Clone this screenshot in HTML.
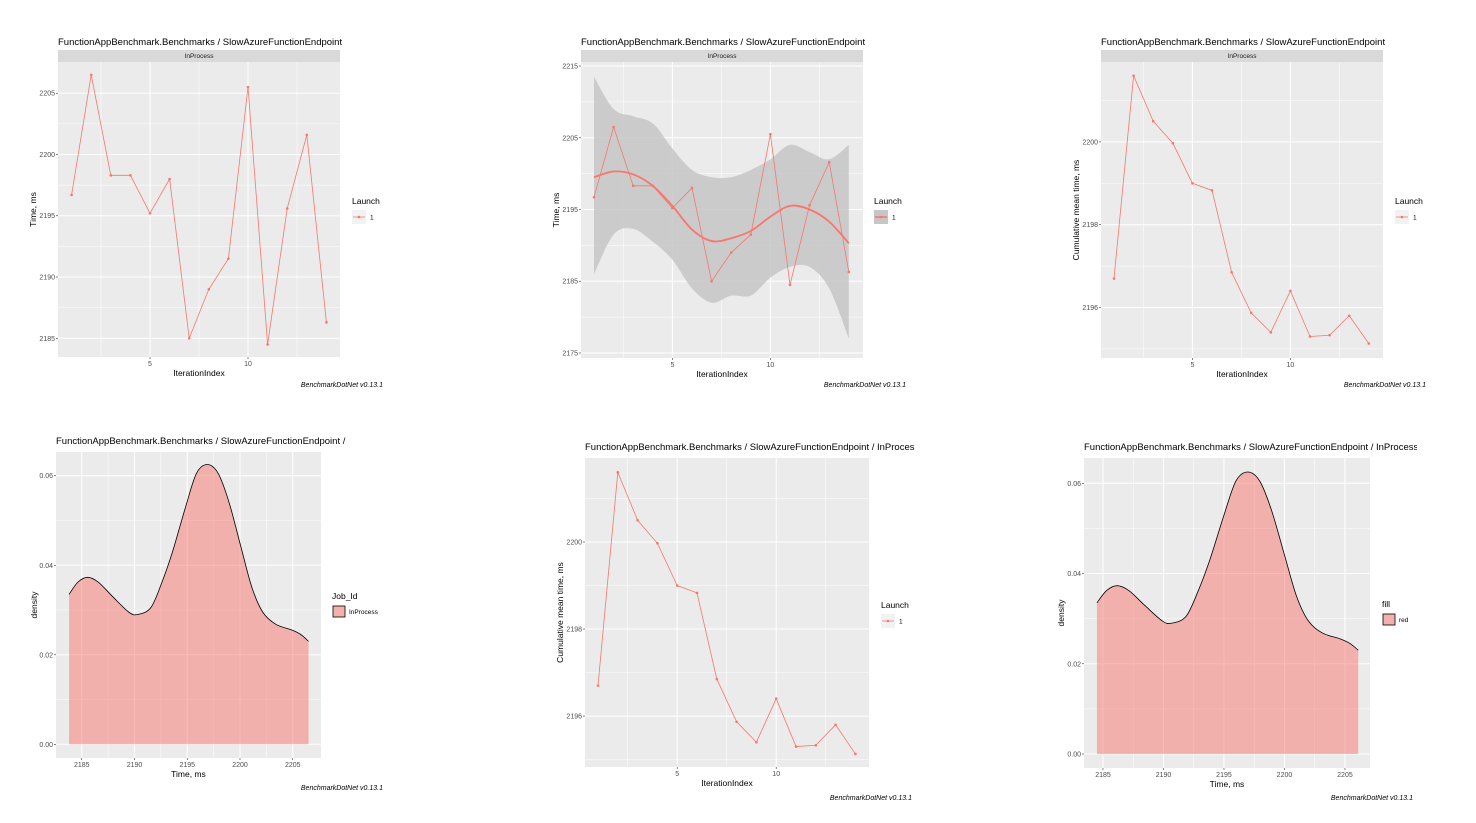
<!DOCTYPE html>
<html><head><meta charset="utf-8"><style>
body{margin:0;background:#fff;width:1476px;height:823px;overflow:hidden}
svg{position:absolute;left:0;top:0}
text{font-family:"Liberation Sans",sans-serif}
</style></head><body>
<svg id="s" width="1476" height="823" xmlns="http://www.w3.org/2000/svg"></svg>
<script>
var out='';
function cr(pts){
  var d='M'+pts[0][0]+','+pts[0][1];
  for(var i=0;i<pts.length-1;i++){
    var p0=pts[i-1]||pts[i],p1=pts[i],p2=pts[i+1],p3=pts[i+2]||p2;
    d+=' C'+(p1[0]+(p2[0]-p0[0])/6)+','+(p1[1]+(p2[1]-p0[1])/6)+' '+(p2[0]-(p3[0]-p1[0])/6)+','+(p2[1]-(p3[1]-p1[1])/6)+' '+p2[0]+','+p2[1];
  }
  return d;
}
function panel(o){
  var X=function(v){return o.x0+(v-o.xmin)/(o.xmax-o.xmin)*(o.x1-o.x0)};
  var Y=function(v){return o.y1-(v-o.ymin)/(o.ymax-o.ymin)*(o.y1-o.y0)};
  o.X=X;o.Y=Y;
  out+='<rect x="'+o.x0+'" y="'+o.y0+'" width="'+(o.x1-o.x0)+'" height="'+(o.y1-o.y0)+'" fill="#ebebeb"/>';
  o.xminor.forEach(function(v){out+='<line x1="'+X(v)+'" x2="'+X(v)+'" y1="'+o.y0+'" y2="'+o.y1+'" stroke="#fff" stroke-width="0.5"/>'});
  o.yminor.forEach(function(v){out+='<line y1="'+Y(v)+'" y2="'+Y(v)+'" x1="'+o.x0+'" x2="'+o.x1+'" stroke="#fff" stroke-width="0.5"/>'});
  o.xt.forEach(function(v){var x=X(v[0]);out+='<line x1="'+x+'" x2="'+x+'" y1="'+o.y0+'" y2="'+o.y1+'" stroke="#fff" stroke-width="1"/><line x1="'+x+'" x2="'+x+'" y1="'+o.y1+'" y2="'+(o.y1+2)+'" stroke="#333" stroke-width="0.6"/><text x="'+x+'" y="'+(o.y1+9)+'" font-size="7" fill="#4d4d4d" text-anchor="middle">'+v[1]+'</text>'});
  o.yt.forEach(function(v){var y=Y(v[0]);out+='<line y1="'+y+'" y2="'+y+'" x1="'+o.x0+'" x2="'+o.x1+'" stroke="#fff" stroke-width="1"/><line y1="'+y+'" y2="'+y+'" x1="'+(o.x0-2)+'" x2="'+o.x0+'" stroke="#333" stroke-width="0.6"/><text x="'+(o.x0-3)+'" y="'+(y+2.5)+'" font-size="7" fill="#4d4d4d" text-anchor="end">'+v[1]+'</text>'});
  if(o.strip){out+='<rect x="'+o.x0+'" y="'+(o.y0-12)+'" width="'+(o.x1-o.x0)+'" height="12" fill="#d9d9d9"/><text x="'+((o.x0+o.x1)/2)+'" y="'+(o.y0-4)+'" font-size="6.5" fill="#1a1a1a" text-anchor="middle">InProcess</text>';}
  var ty=o.strip?o.y0-17:o.y0-8;
  out+='<text x="'+o.x0+'" y="'+ty+'" font-size="9.5" fill="#000">'+o.title+'</text>';
  out+='<text x="'+((o.x0+o.x1)/2)+'" y="'+(o.y1+19)+'" font-size="8.5" fill="#000" text-anchor="middle">'+o.xlab+'</text>';
  var yc=(o.y0+o.y1)/2;
  out+='<text transform="translate('+o.ylx+','+yc+') rotate(-90)" font-size="8.5" fill="#000" text-anchor="middle">'+o.ylab+'</text>';
  out+='<text x="'+o.bx+'" y="'+o.by+'" font-size="7" font-style="italic" fill="#000" text-anchor="end">BenchmarkDotNet v0.13.1</text>';
}
function linePts(o,vals,col){
  var pts=vals.map(function(v,i){return [o.X(i+1),o.Y(v)]});
  out+='<polyline points="'+pts.map(function(p){return p.join(',')}).join(' ')+'" fill="none" stroke="'+(col||'#f8766d')+'" stroke-width="0.8"/>';
  pts.forEach(function(p){out+='<circle cx="'+p[0]+'" cy="'+p[1]+'" r="1.3" fill="#f8766d"/>'});
}
function legLaunch(x,y,fillbg){
  out+='<text x="'+x+'" y="'+y+'" font-size="8.5">Launch</text><rect x="'+x+'" y="'+(y+6)+'" width="14" height="14" fill="'+(fillbg||'#f2f2f2')+'"/><line x1="'+(x+1)+'" x2="'+(x+13)+'" y1="'+(y+13)+'" y2="'+(y+13)+'" stroke="#f8766d" stroke-width="'+(fillbg?1.5:0.8)+'"/><circle cx="'+(x+7)+'" cy="'+(y+13)+'" r="1.3" fill="#f8766d"/><text x="'+(x+18)+'" y="'+(y+15.5)+'" font-size="6.5">1</text>';
}
var raw=[2196.7,2206.5,2198.3,2198.3,2195.2,2198.0,2185.0,2189.0,2191.5,2205.5,2184.5,2195.6,2201.6,2186.3];
var cum=[2196.7,2201.6,2200.5,2199.97,2199.0,2198.83,2196.85,2195.87,2195.4,2196.4,2195.3,2195.33,2195.8,2195.13];
var T='FunctionAppBenchmark.Benchmarks / SlowAzureFunctionEndpoint';
var xi=[[5,'5'],[10,'10']], xim=[2.5,7.5,12.5];
var p1={x0:58,x1:340,y0:62,y1:357,xmin:1-(71.6-58)/19.6,xmax:1+(340-71.6)/19.6,ymin:2183.47,ymax:2207.55,
 xt:xi,xminor:xim,yt:[[2185,'2185'],[2190,'2190'],[2195,'2195'],[2200,'2200'],[2205,'2205']],yminor:[2187.5,2192.5,2197.5,2202.5],
 strip:1,title:T,xlab:'IterationIndex',ylab:'Time, ms',ylx:36,bx:383,by:387};
panel(p1);linePts(p1,raw);legLaunch(352,204);
var p2={x0:581,x1:863,y0:62,y1:358,xmin:1-(594-581)/19.6,xmax:1+(863-594)/19.6,ymin:2174.3,ymax:2215.56,
 xt:xi,xminor:xim,yt:[[2175,'2175'],[2185,'2185'],[2195,'2195'],[2205,'2205'],[2215,'2215']],yminor:[2180,2190,2200,2210],
 strip:1,title:T,xlab:'IterationIndex',ylab:'Time, ms',ylx:559,bx:906,by:387};
panel(p2);
var up=[2213.5,2209,2208,2207,2203.5,2200.5,2199.5,2199.5,2200.5,2202,2204,2203,2202,2204];
var lo=[2186,2191.5,2192.3,2190.5,2188,2184,2182,2183,2183,2185.5,2187,2187,2184,2177];
var sm=[2199.5,2200.3,2199.9,2198.3,2195.5,2192.2,2190.6,2191,2192,2194,2195.5,2195,2193.3,2190.3];
var upP=up.map(function(v,i){return [p2.X(i+1),p2.Y(v)]}), loP=lo.map(function(v,i){return [p2.X(i+1),p2.Y(v)]}).reverse();
out+='<path d="'+cr(upP)+' L'+loP[0].join(',')+' '+cr(loP).slice(1)+' Z" fill="#c6c6c6" fill-opacity="0.85"/>';
linePts(p2,raw);
out+='<path d="'+cr(sm.map(function(v,i){return [p2.X(i+1),p2.Y(v)]}))+'" fill="none" stroke="#f8766d" stroke-width="1.8"/>';
legLaunch(874,204,'#c6c6c6');
var p3={x0:1101,x1:1383,y0:62,y1:358,xmin:1-(1114-1101)/19.6,xmax:1+(1383-1114)/19.6,ymin:2194.78,ymax:2201.93,
 xt:xi,xminor:xim,yt:[[2196,'2196'],[2198,'2198'],[2200,'2200']],yminor:[2195,2197,2199,2201],
 strip:1,title:T,xlab:'IterationIndex',ylab:'Cumulative mean time, ms',ylx:1079,bx:1426,by:387};
panel(p3);linePts(p3,cum);legLaunch(1395,204);
var p5={x0:585,x1:869,y0:458,y1:767,xmin:1-(598-585)/19.8,xmax:1+(869-598)/19.8,ymin:2194.83,ymax:2201.93,
 xt:xi,xminor:xim,yt:[[2196,'2196'],[2198,'2198'],[2200,'2200']],yminor:[2195,2197,2199,2201],
 strip:0,title:T+' / InProces',xlab:'IterationIndex',ylab:'Cumulative mean time, ms',ylx:563,bx:912,by:800};
panel(p5);linePts(p5,cum);legLaunch(881,608);
var dens=[[2184.5,0.0335],[2185.3,0.0362],[2186.2,0.0373],[2187.2,0.0362],[2188.5,0.033],[2190,0.0295],[2190.8,0.029],[2192,0.0305],[2193,0.036],[2194,0.043],[2195.2,0.053],[2196.2,0.0605],[2197.2,0.0625],[2198.2,0.0605],[2199.2,0.054],[2200.3,0.044],[2201.3,0.035],[2202.3,0.0295],[2203.5,0.0268],[2205,0.0255],[2205.8,0.0245],[2206.5,0.023]];
function dpanel(o,leg,a,b){
  panel(o);
  var m=function(x){return a+(x-2184.5)/(2206.5-2184.5)*(b-a)};
  var pts=dens.map(function(d){return [o.X(m(d[0])),o.Y(d[1])]});
  var c=cr(pts);
  out+='<path d="'+c+' L'+o.X(b)+','+o.Y(0)+' L'+o.X(a)+','+o.Y(0)+' Z" fill="#f8766d" fill-opacity="0.5"/>';
  out+='<path d="'+c+'" fill="none" stroke="#000" stroke-width="0.8"/>';
  out+='<text x="'+leg[0]+'" y="'+leg[1]+'" font-size="8.5">'+leg[2]+'</text><rect x="'+(leg[0]+1)+'" y="'+(leg[1]+7)+'" width="12" height="11" fill="#f3b1ad" stroke="#000" stroke-width="0.8"/><text x="'+(leg[0]+17)+'" y="'+(leg[1]+15)+'" font-size="6.5">'+leg[3]+'</text>';
}
var dxt=[[2185,'2185'],[2190,'2190'],[2195,'2195'],[2200,'2200'],[2205,'2205']],dxm=[2187.5,2192.5,2197.5,2202.5],dyt=[[0,'0.00'],[0.02,'0.02'],[0.04,'0.04'],[0.06,'0.06']],dym=[0.01,0.03,0.05];
dpanel({x0:56,x1:321,y0:452,y1:758,xmin:2182.56,xmax:2207.68,ymin:-0.00306,ymax:0.0653,xt:dxt,xminor:dxm,yt:dyt,yminor:dym,
 strip:0,title:T+' /',xlab:'Time, ms',ylab:'density',ylx:37,bx:383,by:790},[332,599,'Job_Id','InProcess'],2183.8,2206.5);
dpanel({x0:1084,x1:1370,y0:458,y1:768,xmin:2183.43,xmax:2207.07,ymin:-0.0031,ymax:0.0656,xt:dxt,xminor:dxm,yt:dyt,yminor:dym,
 strip:0,title:T+' / InProcess',xlab:'Time, ms',ylab:'density',ylx:1064,bx:1413,by:800},[1382,607,'fill','red'],2184.5,2206.1);
out+='<rect x="1417" y="438" width="59" height="16" fill="#fff"/>';
document.getElementById('s').innerHTML=out;
</script>
</body></html>
